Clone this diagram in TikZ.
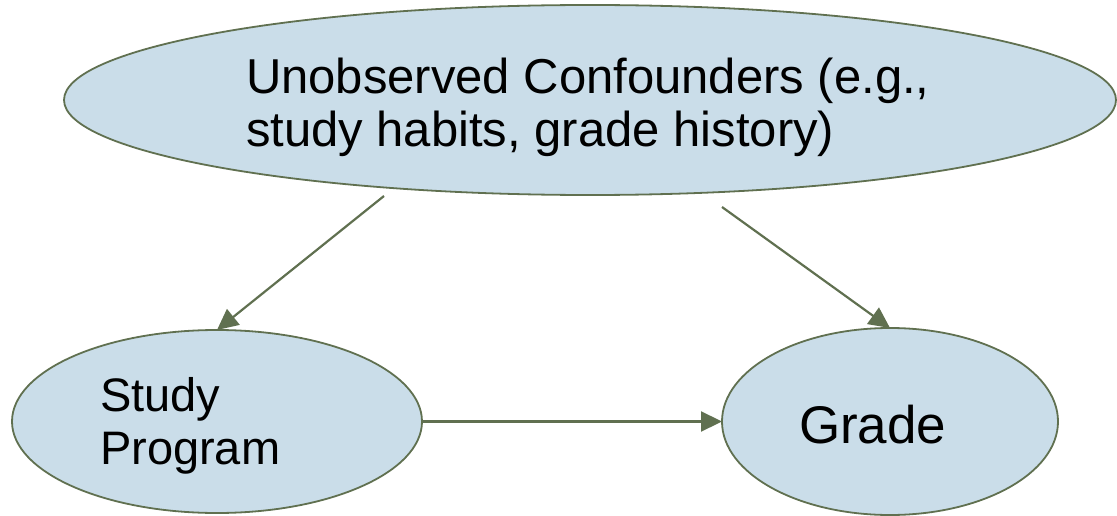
\documentclass[tikz,border=0pt]{standalone}
\usepackage{fontspec}
\setmainfont{Liberation Sans}
\usetikzlibrary{shapes.geometric,arrows.meta}
\definecolor{nodefill}{RGB}{202,221,233}
\definecolor{edgecol}{RGB}{96,112,80}
\tikzset{
  oval/.style={ellipse, draw=edgecol, fill=nodefill, line width=1.8pt, inner sep=0pt, outer sep=0pt},
  label text/.style={inner sep=0pt, outer sep=0pt, align=left, text=black},
  link/.style={draw=edgecol, line width=2.2pt, -{Triangle[length=21pt,width=20pt]}}
}
\begin{document}
\begin{tikzpicture}[x=1pt,y=-1pt]
\useasboundingbox (0,0) rectangle (1117,516);
\node[oval, minimum width=1052pt, minimum height=190pt] (uc) at (590,100) {};
\node[oval, minimum width=410pt, minimum height=183pt] (sp) at (217,421.5) {};
\node[oval, minimum width=336pt, minimum height=187pt] (gr) at (890,421.5) {};
\node[label text, anchor=base west, font=\fontsize{49}{54}\selectfont] (uctext) at (246,147) {Unobserved Confounders (e.g.,\\study habits, grade history)};
\node[label text, anchor=base west, font=\fontsize{47}{53}\selectfont] (sptext) at (100,464) {Study\\Program};
\node[label text, anchor=base west, font=\fontsize{53}{60}\selectfont] (grtext) at (799,443) {Grade};
\coordinate (s1) at (384,196);
\coordinate (s2) at (722,207);
\draw[link] (s1) -- (sp.north);
\draw[link] (s2) -- (gr.north);
\draw[link] (sp.east) -- (gr.west);
\end{tikzpicture}
\end{document}
